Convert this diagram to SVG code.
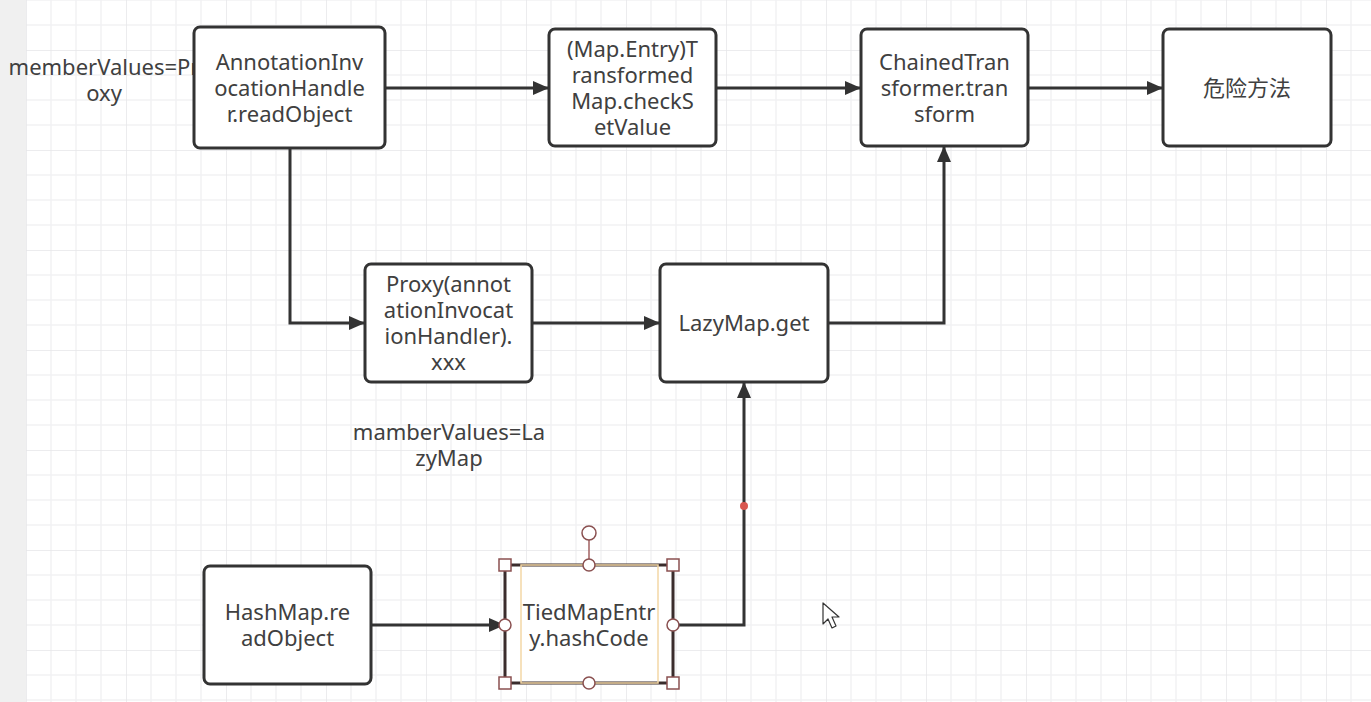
<svg xmlns="http://www.w3.org/2000/svg" width="1371" height="702" viewBox="0 0 1371 702">
<style>
.box{fill:#fff;stroke:#333;stroke-width:3}
.t{font-family:"Noto Sans","Noto Sans CJK SC",sans-serif;font-size:22px;fill:#404040;text-anchor:middle}
.edge{fill:none;stroke:#333;stroke-width:3}
.hs{fill:#fff;stroke:#8a5050;stroke-width:1.5}
</style>
<defs>
<pattern id="grid" patternUnits="userSpaceOnUse" x="26" y="50" width="100" height="100">
<path d="M25 0V100M50 0V100M75 0V100M0 25H100M0 50H100M0 75H100" stroke="#f2f2f4" stroke-width="1.5" fill="none"/>
<path d="M0 0V100M0 0H100" stroke="#e6e6e9" stroke-width="1.5" fill="none"/>
</pattern>
<marker id="arr" viewBox="0 0 16 14" refX="16" refY="7" markerWidth="16" markerHeight="14" markerUnits="userSpaceOnUse" orient="auto">
<path d="M0 0L16 7L0 14Z" fill="#333"/>
</marker>
</defs>
<rect width="1371" height="702" fill="#fff"/>
<rect x="26" y="0" width="1345" height="702" fill="url(#grid)"/>
<rect x="0" y="0" width="26" height="702" fill="#f0f0f0"/>

<g id="connectors">
<path class="edge" d="M385 88H549" marker-end="url(#arr)"/>
<path class="edge" d="M716 88H861" marker-end="url(#arr)"/>
<path class="edge" d="M1028 88H1163" marker-end="url(#arr)"/>
<path class="edge" d="M290 148V323H365" marker-end="url(#arr)"/>
<path class="edge" d="M532 323H660" marker-end="url(#arr)"/>
<path class="edge" d="M828 323H944V146" marker-end="url(#arr)"/>
<path class="edge" d="M371 625H505" marker-end="url(#arr)"/>
<path class="edge" d="M673 625H744V382" marker-end="url(#arr)"/>
<circle cx="744" cy="506" r="4" fill="#d9574f"/>
</g>

<g id="label-memberValues">
<text class="t" x="104" y="75">memberValues=Pr</text>
<text class="t" x="104" y="101">oxy</text>
</g>
<g id="label-mamberValues">
<text class="t" x="449" y="440">mamberValues=La</text>
<text class="t" x="449" y="466">zyMap</text>
</g>

<g id="node-aih">
<rect class="box" x="194" y="27" width="191" height="121" rx="6"/>
<text class="t" x="289.5" y="69.5">AnnotationInv</text>
<text class="t" x="289.5" y="95.5">ocationHandle</text>
<text class="t" x="289.5" y="121.5">r.readObject</text>
</g>

<g id="node-transformedmap">
<rect class="box" x="549" y="29" width="167" height="117" rx="6"/>
<text class="t" x="632.5" y="56.5">(Map.Entry)T</text>
<text class="t" x="632.5" y="82.5">ransformed</text>
<text class="t" x="632.5" y="108.5">Map.checkS</text>
<text class="t" x="632.5" y="134.5">etValue</text>
</g>

<g id="node-chained">
<rect class="box" x="861" y="29" width="167" height="117" rx="6"/>
<text class="t" x="944.5" y="69.5">ChainedTran</text>
<text class="t" x="944.5" y="95.5">sformer.tran</text>
<text class="t" x="944.5" y="121.5">sform</text>
</g>

<g id="node-danger">
<rect class="box" x="1163" y="29" width="168" height="117" rx="6"/>
<text class="t" x="1247" y="95.5">危险方法</text>
</g>

<g id="node-proxy">
<rect class="box" x="365" y="264" width="167" height="118" rx="6"/>
<text class="t" x="448.5" y="291.5">Proxy(annot</text>
<text class="t" x="448.5" y="317.5">ationInvocat</text>
<text class="t" x="448.5" y="343.5">ionHandler).</text>
<text class="t" x="448.5" y="369.5">xxx</text>
</g>

<g id="node-lazymap">
<rect class="box" x="660" y="264" width="168" height="118" rx="6"/>
<text class="t" x="744" y="330.5">LazyMap.get</text>
</g>

<g id="node-hashmap">
<rect class="box" x="204" y="566" width="167" height="118" rx="6"/>
<text class="t" x="287.5" y="619.5">HashMap.re</text>
<text class="t" x="287.5" y="645.5">adObject</text>
</g>

<g id="node-tiedmapentry">
<rect x="505" y="565" width="168" height="118" fill="#fff" stroke="#3a2c2c" stroke-width="3"/>
<rect x="521" y="565" width="137" height="118" fill="none" stroke="#f3d7a6" stroke-width="1.5"/>
<text class="t" x="589" y="619.5">TiedMapEntr</text>
<text class="t" x="589" y="645.5">y.hashCode</text>
<line x1="589" y1="540" x2="589" y2="559" stroke="#a06060" stroke-width="1.5"/>
<circle class="hs" cx="589" cy="533" r="7"/>
<rect class="hs" x="499" y="559" width="12" height="12"/>
<rect class="hs" x="667" y="559" width="12" height="12"/>
<rect class="hs" x="499" y="677" width="12" height="12"/>
<rect class="hs" x="667" y="677" width="12" height="12"/>
<circle class="hs" cx="589" cy="565" r="6"/>
<circle class="hs" cx="589" cy="683" r="6"/>
<circle class="hs" cx="505" cy="625" r="6"/>
<circle class="hs" cx="673" cy="625" r="6"/>
</g>

<path d="M823 603V624L828 619L832 628L836 626L832 617L839 617Z" fill="#fff" stroke="#333" stroke-width="1.2" stroke-linejoin="round"/>
</svg>
